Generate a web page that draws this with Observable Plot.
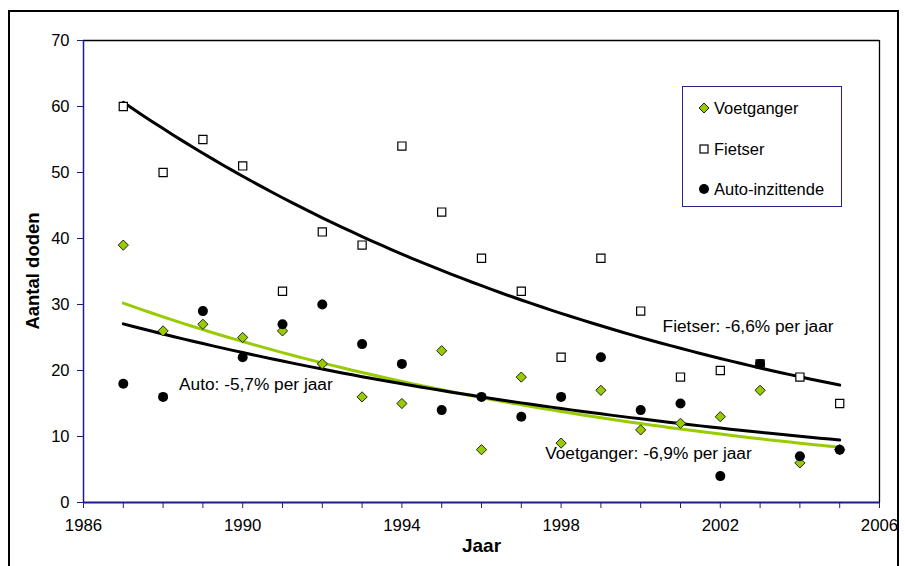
<!DOCTYPE html>
<html>
<head>
<meta charset="utf-8">
<script src="https://cdn.jsdelivr.net/npm/d3@7"></script>
<script src="https://cdn.jsdelivr.net/npm/@observablehq/plot@0.6"></script>
<style>
  body { margin: 0; background: #fff; font-family: "Liberation Sans", Arial, sans-serif; }
  #wrap { position: relative; width: 905px; height: 566px; overflow: hidden; background: #fff; }
  #frame { position: absolute; left: 8px; top: 10px; width: 891px; height: 620px; border: 2px solid #000; box-sizing: border-box; }
  #chart { position: absolute; left: 0; top: 0; }
  #ylabel { position: absolute; left: 33px; top: 271px; transform: translate(-50%, -50%) rotate(-90deg); font-weight: bold; font-size: 18.5px; white-space: nowrap; color: #000; }
  #legend { position: absolute; left: 682px; top: 86px; width: 160px; height: 121px; border: 1px solid #23238a; box-sizing: border-box; background: #fff; }
  .item { position: absolute; left: 14px; height: 20px; display: flex; align-items: center; font-size: 16.5px; color: #000; white-space: nowrap; }
  .item svg { width: 14px; height: 14px; margin-right: 3px; overflow: visible; }
</style>
</head>
<body>
<div id="wrap">
  <div id="frame"></div>
  <div id="chart"></div>
  <div id="ylabel">Aantal doden</div>
  <div id="legend"></div>
</div>
<script>
// ---- data ----
const years      = [1987,1988,1989,1990,1991,1992,1993,1994,1995,1996,1997,1998,1999,2000,2001,2002,2003,2004,2005];
const voetganger = [39,26,27,25,26,21,16,15,23,8,19,9,17,11,12,13,17,6,8];
const fietser    = [60,50,55,51,32,41,39,54,44,37,32,22,37,29,19,20,21,19,15];
const auto       = [18,16,29,22,27,30,24,21,14,16,13,16,22,14,15,4,21,7,8];

const seriesNames = ["Voetganger", "Fietser", "Auto-inzittende"];
const xTicks      = [1986,1987,1988,1989,1990,1991,1992,1993,1994,1995,1996,1997,1998,1999,2000,2001,2002,2003,2004,2005,2006];
const xTickLabels = [1986,1990,1994,1998,2002,2006];
const yTicks      = [0,10,20,30,40,50,60,70];

const annotations = [
  {x: 2000.55, y: 26.7, text: "Fietser: -6,6% per jaar"},
  {x: 1988.4,  y: 17.9, text: "Auto: -5,7% per jaar"},
  {x: 1997.6,  y: 7.4,  text: "Voetganger: -6,9% per jaar"}
];

const green = "#99cc00";
const navy = "#1c1c8a";

// ---- exponential trend fit (least squares on ln y), as in the spreadsheet trendline ----
function expFit(xs, ys) {
  const mx = d3.mean(xs);
  const ly = ys.map(Math.log);
  const my = d3.mean(ly);
  const b = d3.sum(xs, (x, i) => (x - mx) * (ly[i] - my)) / d3.sum(xs, x => (x - mx) ** 2);
  return x => Math.exp(my + b * (x - mx));
}
const xs = years[0], xe = years[years.length - 1];
const samples = d3.range(xs, xe + 0.001, 0.25);
function trend(ys, name) {
  const f = expFit(years, ys);
  return samples.map(x => ({x, y: f(x), name}));
}

const rows = (ys, name) => years.map((x, i) => ({x, y: ys[i], name}));

const chart = Plot.plot({
  width: 905,
  height: 566,
  marginLeft: 83,
  marginRight: 26,
  marginTop: 40,
  marginBottom: 64,
  style: { fontFamily: "'Liberation Sans', Arial, sans-serif", fontSize: "16px", background: "transparent", color: "#000" },
  x: { domain: [1986, 2006] },
  y: { domain: [0, 70] },
  marks: [
    Plot.ruleY([70], { stroke: "#000", strokeWidth: 1.3 }),
    Plot.ruleX([2006], { stroke: "#000", strokeWidth: 1.3 }),
    Plot.axisY(yTicks, { tickSize: 6, tickPadding: 8, stroke: navy, fill: "#000", label: null, fontSize: 16.5 }),
    Plot.axisX(xTicks, { tickSize: 6, tickFormat: () => "", stroke: navy, label: null }),
    Plot.axisX(xTickLabels, { tickSize: 0, tickPadding: 17, tickFormat: d => String(d), fill: "#000", label: null, fontSize: 16.8 }),
    Plot.ruleX([1986], { stroke: navy, strokeWidth: 1.5 }),
    Plot.ruleY([0], { stroke: navy, strokeWidth: 2 }),
    Plot.text(["Jaar"], { frameAnchor: "bottom", dy: 49, fontWeight: "bold", fontSize: 19 }),
    Plot.line(trend(voetganger, "Voetganger"), { x: "x", y: "y", stroke: green, strokeWidth: 3 }),
    Plot.line(trend(fietser, "Fietser"), { x: "x", y: "y", stroke: "#000", strokeWidth: 3 }),
    Plot.line(trend(auto, "Auto"), { x: "x", y: "y", stroke: "#000", strokeWidth: 3 }),
    Plot.dot(rows(voetganger, seriesNames[0]), { x: "x", y: "y", symbol: "diamond2", r: 4.6, fill: green, stroke: "#222", strokeWidth: 1 }),
    Plot.dot(rows(fietser, seriesNames[1]), { x: "x", y: "y", symbol: "square2", r: 5.2, fill: "#fff", stroke: "#000", strokeWidth: 1.2 }),
    Plot.dot(rows(auto, seriesNames[2]), { x: "x", y: "y", symbol: "circle", r: 5, fill: "#000", stroke: "none" }),
    Plot.text(annotations, { x: "x", y: "y", text: "text", textAnchor: "start", fontSize: 17.3, fill: "#000" })
  ]
});
document.getElementById("chart").appendChild(chart);

// ---- legend ----
const legendSymbols = [
  `<svg viewBox="-7 -7 14 14"><path d="M0,-5L5,0L0,5L-5,0Z" fill="${green}" stroke="#222" stroke-width="1"/></svg>`,
  `<svg viewBox="-7 -7 14 14"><rect x="-4" y="-4" width="8" height="8" fill="#fff" stroke="#000" stroke-width="1.2"/></svg>`,
  `<svg viewBox="-7 -7 14 14"><circle r="5" fill="#000"/></svg>`
];
const legendTops = [11, 52, 92];
const legend = document.getElementById("legend");
seriesNames.forEach((name, i) => {
  const div = document.createElement("div");
  div.className = "item";
  div.style.top = legendTops[i] + "px";
  div.innerHTML = legendSymbols[i] + `<span>${name}</span>`;
  legend.appendChild(div);
});
</script>
</body>
</html>
